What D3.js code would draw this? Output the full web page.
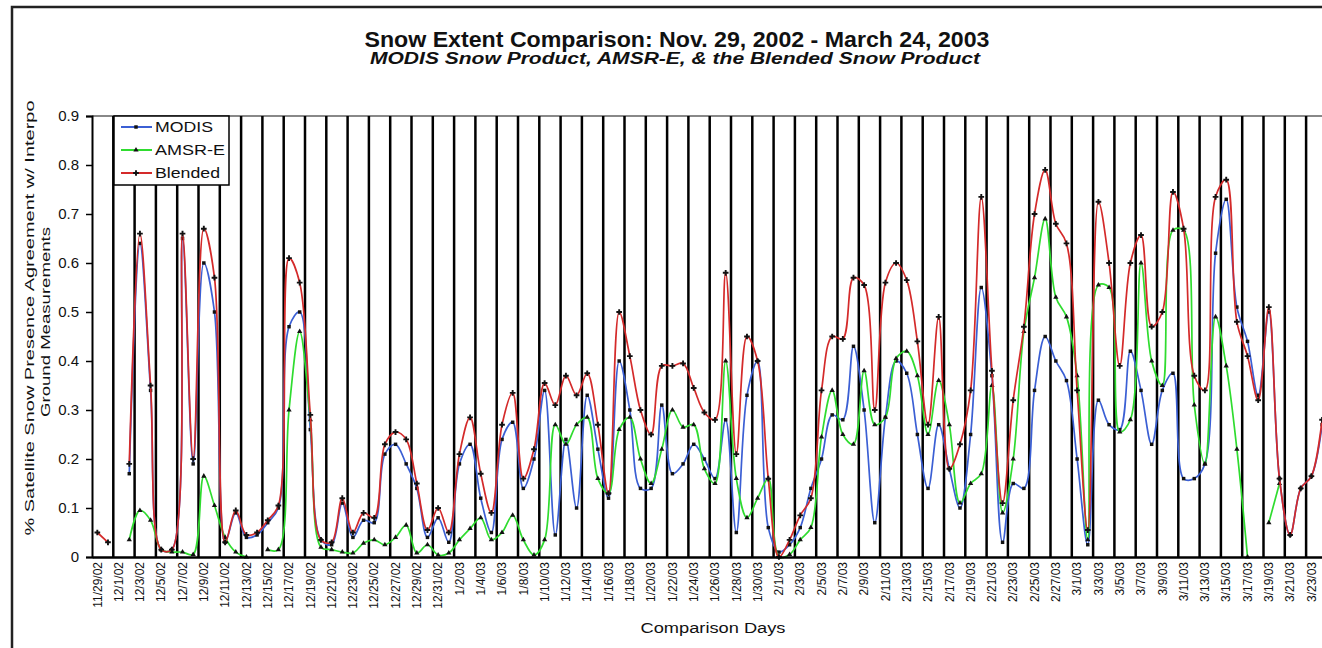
<!DOCTYPE html>
<html>
<head>
<meta charset="utf-8">
<script src="https://cdn.jsdelivr.net/npm/d3@7"></script>
<style>
  body { margin: 0; background: #fff; }
  svg { display: block; }
  text { font-family: "Liberation Sans", Arial, sans-serif; fill: #111; }
</style>
</head>
<body>
<svg id="chart"></svg>
<script>
// categories: one per day, 11/29/02 .. 3/24/03
const fmtDay = d3.timeFormat('%-m/%-d/%y');
const dates = d3.timeDay.range(new Date(2002, 10, 29), new Date(2003, 2, 25)).map(fmtDay);

const yTicks = [0, 0.1, 0.2, 0.3, 0.4, 0.5, 0.6, 0.7, 0.8, 0.9];

// values, one per day (null = no data)
const modis = [
  null, null, null, 0.17, 0.64, 0.34, 0.015, 0.015, 0.65, 0.19,
  0.60, 0.50, 0.03, 0.09, 0.04, 0.045, 0.07, 0.10, 0.47, 0.50,
  0.26, 0.035, 0.025, 0.11, 0.04, 0.075, 0.07, 0.21, 0.23, 0.19,
  0.14, 0.04, 0.08, 0.03, 0.19, 0.23, 0.12, 0.05, 0.24, 0.275,
  0.14, 0.20, 0.34, 0.045, 0.24, 0.10, 0.33, 0.22, 0.12, 0.40,
  0.30, 0.14, 0.14, 0.31, 0.17, 0.19, 0.23, 0.20, 0.16, 0.28,
  0.05, 0.33, 0.40, 0.06, 0.01, 0.025, 0.06, 0.14, 0.20, 0.29,
  0.28, 0.43, 0.30, 0.07, 0.285, 0.40, 0.375, 0.25, 0.14, 0.27,
  0.18, 0.10, 0.25, 0.55, 0.37, 0.03, 0.15, 0.14, 0.34, 0.45,
  0.40, 0.36, 0.20, 0.025, 0.32, 0.27, 0.26, 0.42, 0.34, 0.23,
  0.34, 0.375, 0.16, 0.16, 0.19, 0.62, 0.73, 0.51, 0.44, 0.33,
  0.50, 0.16, 0.045, 0.14, 0.165, 0.27,
];

const amsre = [
  null, null, null, 0.035, 0.095, 0.075, 0.015, 0.01, 0.01, 0.005,
  0.165, 0.105, 0.04, 0.01, 0.0, null, 0.015, 0.015, 0.30, 0.46,
  0.28, 0.02, 0.015, 0.01, 0.008, 0.028, 0.035, 0.025, 0.04, 0.065,
  0.008, 0.025, 0.004, 0.008, 0.035, 0.058, 0.08, 0.035, 0.05, 0.085,
  0.035, 0.004, 0.035, 0.27, 0.23, 0.27, 0.285, 0.16, 0.13, 0.26,
  0.285, 0.20, 0.15, 0.22, 0.30, 0.265, 0.27, 0.18, 0.15, 0.40,
  0.16, 0.08, 0.12, 0.16, 0.0, 0.005, 0.035, 0.06, 0.245, 0.34,
  0.25, 0.23, 0.38, 0.27, 0.285, 0.405, 0.42, 0.37, 0.25, 0.36,
  0.27, 0.11, 0.15, 0.17, 0.35, 0.09, 0.20, 0.46, 0.57, 0.69,
  0.53, 0.49, 0.37, 0.035, 0.555, 0.55, 0.255, 0.28, 0.60, 0.40,
  0.35, 0.667, 0.667, 0.31, 0.19, 0.49, 0.39, 0.22, 0.0, null,
  0.07, 0.15, null, null, null, null,
];

const blended = [
  0.05, 0.03, null, 0.19, 0.66, 0.35, 0.015, 0.015, 0.66, 0.20,
  0.67, 0.57, 0.03, 0.095, 0.045, 0.05, 0.075, 0.105, 0.61, 0.56,
  0.29, 0.035, 0.03, 0.12, 0.05, 0.09, 0.08, 0.23, 0.255, 0.24,
  0.15, 0.055, 0.10, 0.05, 0.21, 0.285, 0.17, 0.09, 0.27, 0.335,
  0.16, 0.22, 0.355, 0.31, 0.37, 0.33, 0.375, 0.27, 0.13, 0.50,
  0.41, 0.30, 0.25, 0.39, 0.39, 0.395, 0.345, 0.295, 0.28, 0.58,
  0.21, 0.45, 0.40, 0.16, 0.0, 0.035, 0.085, 0.12, 0.34, 0.45,
  0.445, 0.57, 0.555, 0.30, 0.56, 0.60, 0.565, 0.44, 0.27, 0.49,
  0.18, 0.23, 0.34, 0.735, 0.38, 0.11, 0.32, 0.47, 0.70, 0.79,
  0.68, 0.64, 0.34, 0.055, 0.725, 0.60, 0.39, 0.60, 0.657, 0.47,
  0.50, 0.745, 0.67, 0.37, 0.34, 0.735, 0.77, 0.48, 0.41, 0.32,
  0.51, 0.16, 0.045, 0.14, 0.165, 0.28,
];

const series = [
  { name: 'MODIS', values: modis, color: '#3b5fd4', symbol: d3.symbolSquare, size: 12 },
  { name: 'AMSR-E', values: amsre, color: '#2fdc2f', symbol: d3.symbolTriangle, size: 12 },
  { name: 'Blended', values: blended, color: '#d42a2a', symbol: d3.symbolCross, size: 18 },
];

const width = 1322;
const height = 648;
const plot = { left: 92, top: 116, bottom: 557 };
const dayWidth = 10.65;

const svg = d3.select('#chart').attr('width', width).attr('height', height);

const xScale = d3
  .scaleBand()
  .domain(dates)
  .range([plot.left, plot.left + dates.length * dayWidth]);

const yScale = d3.scaleLinear().domain([0, 0.9]).range([plot.bottom, plot.top]);

const cx = (d) => xScale(d) + xScale.bandwidth() / 2;

// outer chart frame (only the left and top edges are in view)
svg
  .append('path')
  .attr('d', `M12,${height} V7 H${width}`)
  .attr('fill', 'none')
  .attr('stroke', '#222')
  .attr('stroke-width', 2.5);

// titles
svg
  .append('text')
  .attr('x', 677)
  .attr('y', 47)
  .attr('text-anchor', 'middle')
  .attr('font-size', 22)
  .attr('font-weight', 'bold')
  .attr('textLength', 625)
  .attr('lengthAdjust', 'spacingAndGlyphs')
  .text('Snow Extent Comparison: Nov. 29, 2002 - March 24, 2003');

svg
  .append('text')
  .attr('x', 675)
  .attr('y', 64)
  .attr('text-anchor', 'middle')
  .attr('font-size', 16)
  .attr('font-weight', 'bold')
  .attr('font-style', 'italic')
  .attr('textLength', 610)
  .attr('lengthAdjust', 'spacingAndGlyphs')
  .text('MODIS Snow Product, AMSR-E, & the Blended Snow Product');

// plot top edge
svg
  .append('line')
  .attr('x1', plot.left)
  .attr('x2', width)
  .attr('y1', plot.top)
  .attr('y2', plot.top)
  .attr('stroke', '#888')
  .attr('stroke-width', 2);

// vertical gridlines every second day
const labelDates = dates.filter((d, i) => i % 2 === 0);

svg
  .append('g')
  .attr('class', 'gridlines')
  .selectAll('line')
  .data(labelDates.slice(1))
  .join('line')
  .attr('x1', (d) => xScale(d))
  .attr('x2', (d) => xScale(d))
  .attr('y1', plot.top)
  .attr('y2', plot.bottom)
  .attr('stroke', '#000')
  .attr('stroke-width', 2.5);

// series lines + markers
const line = d3
  .line()
  .defined((d) => d.v != null)
  .x((d) => cx(d.date))
  .y((d) => yScale(d.v))
  .curve(d3.curveCatmullRom.alpha(0.5));

for (const s of series) {
  const pts = dates.map((date, i) => ({ date, v: s.values[i] }));

  svg
    .append('path')
    .datum(pts)
    .attr('fill', 'none')
    .attr('stroke', s.color)
    .attr('stroke-width', 1.7)
    .attr('d', line);

  svg
    .append('g')
    .selectAll('path')
    .data(pts.filter((d) => d.v != null))
    .join('path')
    .attr('transform', (d) => `translate(${cx(d.date)},${yScale(d.v)})`)
    .attr('d', d3.symbol(s.symbol, s.size))
    .attr('fill', '#111');
}

// axes
const yAxis = svg
  .append('g')
  .attr('transform', `translate(${plot.left},0)`)
  .call(
    d3
      .axisLeft(yScale)
      .tickValues(yTicks)
      .tickFormat((d) => (d === 0 ? '0' : d3.format('.1f')(d)))
      .tickSize(6)
      .tickPadding(7),
  );
yAxis.select('.domain').attr('stroke', '#000').attr('stroke-width', 2);
yAxis.selectAll('.tick line').attr('stroke', '#000').attr('stroke-width', 1.5);
yAxis.selectAll('text').attr('font-size', 15).attr('fill', '#111');

const xAxis = svg
  .append('g')
  .attr('transform', `translate(0,${plot.bottom})`)
  .call(d3.axisBottom(xScale).tickValues(labelDates).tickSize(0).tickPadding(0));
xAxis.select('.domain').attr('stroke', '#000').attr('stroke-width', 2.5);
xAxis
  .selectAll('text')
  .attr('transform', 'rotate(-90)')
  .attr('text-anchor', 'end')
  .attr('x', -5)
  .attr('y', 0)
  .attr('dy', '0.35em')
  .attr('font-size', 12)
  .attr('fill', '#111');

// axis titles
svg
  .append('text')
  .attr('transform', 'translate(34,318) rotate(-90)')
  .attr('text-anchor', 'middle')
  .attr('font-size', 13)
  .attr('textLength', 435)
  .attr('lengthAdjust', 'spacingAndGlyphs')
  .text('% Satellite Snow Presence Agreement w/ Interpo');

svg
  .append('text')
  .attr('transform', 'translate(50,322) rotate(-90)')
  .attr('text-anchor', 'middle')
  .attr('font-size', 13)
  .attr('textLength', 190)
  .attr('lengthAdjust', 'spacingAndGlyphs')
  .text('Ground Measurements');

svg
  .append('text')
  .attr('x', 713)
  .attr('y', 633)
  .attr('text-anchor', 'middle')
  .attr('font-size', 14)
  .attr('textLength', 145)
  .attr('lengthAdjust', 'spacingAndGlyphs')
  .text('Comparison Days');

// legend
const legend = svg.append('g').attr('transform', 'translate(114,116)');

legend
  .append('rect')
  .attr('width', 115)
  .attr('height', 69)
  .attr('fill', '#fff')
  .attr('stroke', '#000')
  .attr('stroke-width', 1.5);

const legendLengths = [58, 70, 65];

series.forEach((s, i) => {
  const row = legend.append('g').attr('transform', `translate(0,${11 + i * 23})`);

  row
    .append('line')
    .attr('x1', 7)
    .attr('x2', 38)
    .attr('stroke', s.color)
    .attr('stroke-width', 2);

  row
    .append('path')
    .attr('transform', 'translate(22,0)')
    .attr('d', d3.symbol(s.symbol, s.size))
    .attr('fill', '#111');

  row
    .append('text')
    .attr('x', 41)
    .attr('dy', '0.35em')
    .attr('font-size', 15)
    .attr('textLength', legendLengths[i])
    .attr('lengthAdjust', 'spacingAndGlyphs')
    .text(s.name);
});
</script>
</body>
</html>
